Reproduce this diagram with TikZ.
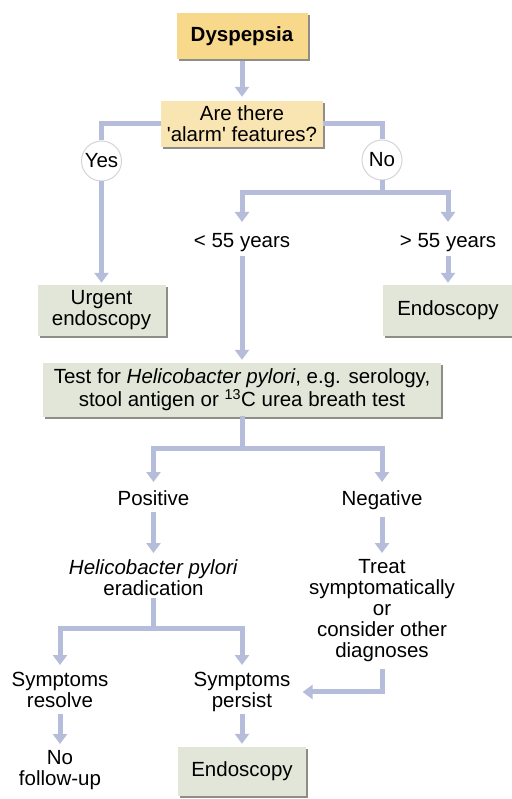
\documentclass[tikz,border=0pt]{standalone}
\usepackage{fontspec}
\setmainfont{Liberation Sans}
\usetikzlibrary{arrows.meta,shadows}
\definecolor{arrowc}{HTML}{B5BDDA}
\definecolor{yelA}{HTML}{F8D98B}
\definecolor{yelB}{HTML}{F9E5B2}
\definecolor{grnbox}{HTML}{E2E6D9}
\definecolor{shadc}{HTML}{8E8E86}
\definecolor{circb}{HTML}{D3D5DC}
\begin{document}
\begin{tikzpicture}[x=1pt,y=-1pt,
  every node/.style={font=\fontsize{20.5}{21}\selectfont},
  box/.style={inner sep=0pt, align=center,
    drop shadow={shadow xshift=2pt, shadow yshift=-2pt, fill=shadc, opacity=1}},
  lbl/.style={inner sep=0pt, align=center, anchor=north},
  answer/.style={circle, draw=circb, line width=1pt, fill=white, inner sep=0pt, minimum size=40pt},
  ln/.style={draw=arrowc, line width=5pt},
  arr/.style={ln, -{Triangle[width=14pt,length=10pt]}}
]
\useasboundingbox (0,0) rectangle (511,799);
\fill[white] (0,0) rectangle (511,799);

% boxes
\node[box, fill=yelA, minimum width=131pt, minimum height=46pt,
      font=\fontsize{20.5}{21}\selectfont\bfseries] (dys) at (242,36) {Dyspepsia};
\node[box, fill=yelB, minimum width=162pt, minimum height=46pt] (alarm) at (242,124)
  {Are there\\\textquotesingle alarm\textquotesingle\ features?};
\node[answer] (yes) at (101.5,161) {Yes};
\node[answer] (no) at (382,160) {No};
\node[lbl] (lt55) at (242,233) {< 55 years};
\node[lbl] (gt55) at (448,233) {> 55 years};
\node[box, fill=grnbox, minimum width=128pt, minimum height=51pt] (urgent) at (101.5,310.5)
  {Urgent\\endoscopy};
\node[box, fill=grnbox, minimum width=130pt, minimum height=51pt] (endoA) at (448,310.5)
  {Endoscopy};
\node[box, fill=grnbox, minimum width=398pt, minimum height=54pt] (test) at (242,390)
  {Test for \textit{Helicobacter pylori}, e.g. serology,\\stool antigen or \textsuperscript{13}C urea breath test};
\node[lbl] (pos) at (153.5,490) {Positive};
\node[lbl] (neg) at (382,490) {Negative};
\node[lbl] (erad) at (153.5,559) {\textit{Helicobacter pylori}\\eradication};
\node[lbl] (treat) at (382,559) {Treat\\symptomatically\\or\\consider other\\diagnoses};
\node[lbl] (resolve) at (60,672) {Symptoms\\resolve};
\node[lbl] (persist) at (242,672) {Symptoms\\persist};
\node[lbl] (nofu) at (60,750) {No\\follow-up};
\node[box, fill=grnbox, minimum width=128pt, minimum height=49pt] (endoB) at (242,771.5)
  {Endoscopy};

\coordinate (nsplit) at (382,193);
\coordinate (tsplit) at (242,448);
\coordinate (esplit) at (153.5,628);

% connectors
\draw[arr, shorten <=2pt, shorten >=4pt] (dys.south) -- (alarm.north);
\draw[ln] (alarm.west) -| (yes.north);
\draw[ln] (alarm.east) -| (no.north);
\draw[arr, shorten >=2pt] (yes.south) -- (urgent.north);
\draw[ln] (no.south) -- (nsplit);
\draw[arr, shorten >=11pt] (nsplit) -| (lt55.north);
\draw[arr, shorten >=11pt] (nsplit) -| (gt55.north);
\draw[arr, shorten <=4pt, shorten >=3pt] (lt55.south) -- (test.north);
\draw[arr, shorten <=4pt, shorten >=2pt] (gt55.south) -- (endoA.north);
\draw[ln, shorten <=-1pt] (test.south) -- (tsplit);
\draw[arr, shorten >=8pt] (tsplit) -| (pos.north);
\draw[arr, shorten >=8pt] (tsplit) -| (neg.north);
\draw[arr, shorten <=7pt, shorten >=6pt] (pos.south) -- (erad.north);
\draw[arr, shorten <=7pt, shorten >=6pt] (neg.south) -- (treat.north);
\draw[ln, shorten <=3pt] (erad.south) -- (esplit);
\draw[arr, shorten >=7pt] (esplit) -| (resolve.north);
\draw[arr, shorten >=7pt] (esplit) -| (persist.north);
\draw[arr, shorten <=7pt, shorten >=12pt] (treat.south) |- (persist.east);
\draw[arr, shorten <=6pt, shorten >=6pt] (resolve.south) -- (nofu.north);
\draw[arr, shorten <=2pt, shorten >=3pt] (persist.south) -- (endoB.north);
\end{tikzpicture}
\end{document}
